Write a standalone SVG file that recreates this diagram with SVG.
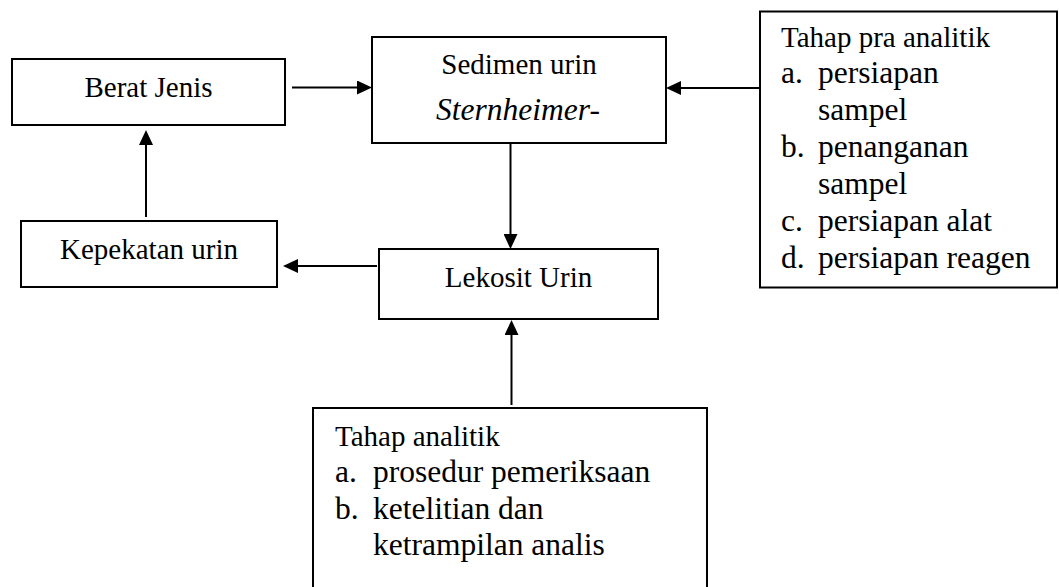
<svg xmlns="http://www.w3.org/2000/svg" width="1059" height="587" viewBox="0 0 1059 587">
<style>
.box{fill:#fff;stroke:#000;stroke-width:2}
.lbl{font-family:"Liberation Serif","Times New Roman",serif;font-size:29px;fill:#000}
.c{text-anchor:middle}
.it{font-style:italic;font-size:31.5px}
.li{font-size:31.5px}
.con{stroke:#000;stroke-width:2;fill:none;marker-end:url(#ah)}
</style>
<defs>
<marker id="ah" viewBox="0 0 15 14" refX="5" refY="7" markerWidth="15" markerHeight="14" markerUnits="userSpaceOnUse" orient="auto">
<path d="M0,0 L15,7 L0,14 z" fill="#000"/>
</marker>
</defs>
<rect width="1059" height="587" fill="#fff"/>
<g id="berat-jenis">
<rect class="box" x="12" y="59" width="273" height="66"/>
<text class="lbl c" x="148.5" y="97">Berat Jenis</text>
</g>
<g id="sedimen-urin">
<rect class="box" x="372" y="37" width="294" height="106"/>
<text class="lbl c" x="519" y="74">Sedimen urin</text>
<text class="lbl c it" x="518" y="120">Sternheimer-</text>
</g>
<g id="kepekatan-urin">
<rect class="box" x="21" y="221" width="256" height="66"/>
<text class="lbl c" x="149" y="259">Kepekatan urin</text>
</g>
<g id="lekosit-urin">
<rect class="box" x="379" y="249" width="279" height="70"/>
<text class="lbl c" x="518.5" y="287">Lekosit Urin</text>
</g>
<g id="tahap-pra-analitik">
<rect class="box" x="760" y="11.5" width="297" height="276"/>
<text class="lbl" x="781" y="47">Tahap pra analitik</text>
<text class="lbl li" x="781" y="83">a.</text>
<text class="lbl li" x="818" y="83">persiapan</text>
<text class="lbl li" x="818" y="119.5">sampel</text>
<text class="lbl li" x="781" y="156.5">b.</text>
<text class="lbl li" x="818" y="156.5">penanganan</text>
<text class="lbl li" x="818" y="194">sampel</text>
<text class="lbl li" x="781" y="231">c.</text>
<text class="lbl li" x="818" y="231">persiapan alat</text>
<text class="lbl li" x="781" y="268">d.</text>
<text class="lbl li" x="818" y="268">persiapan reagen</text>
</g>
<g id="tahap-analitik">
<rect class="box" x="313" y="408" width="394" height="200"/>
<text class="lbl" x="335" y="446">Tahap analitik</text>
<text class="lbl li" x="335" y="482">a.</text>
<text class="lbl li" x="373" y="482">prosedur pemeriksaan</text>
<text class="lbl li" x="335" y="518.5">b.</text>
<text class="lbl li" x="373" y="518.5">ketelitian dan</text>
<text class="lbl li" x="373" y="555">ketrampilan analis</text>
</g>
<g id="connectors">
<line class="con" x1="292" y1="87.5" x2="362" y2="87.5"/>
<line class="con" x1="760" y1="88" x2="676" y2="88"/>
<line class="con" x1="510.5" y1="143" x2="510.5" y2="239"/>
<line class="con" x1="377" y1="266" x2="293" y2="266"/>
<line class="con" x1="146" y1="217" x2="146" y2="140"/>
<line class="con" x1="511.5" y1="405" x2="511.5" y2="330"/>
</g>
</svg>
